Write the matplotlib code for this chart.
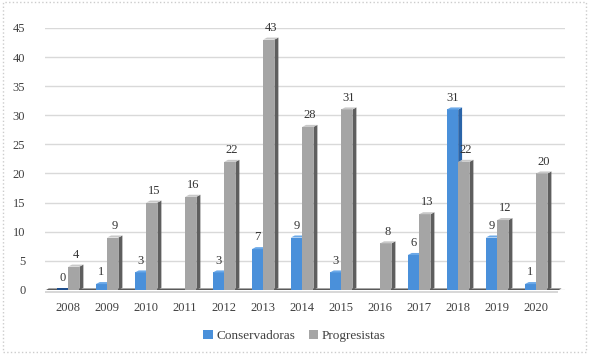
import matplotlib.pyplot as plt
from matplotlib.patches import Polygon, Rectangle

years = ["2008", "2009", "2010", "2011", "2012", "2013", "2014",
         "2015", "2016", "2017", "2018", "2019", "2020"]
# None = no bar / no label in the original
conservadoras = [0, 1, 3, None, 3, 7, 9, 3, None, 6, 31, 9, 1]
progresistas = [4, 9, 15, 16, 22, 43, 28, 31, 8, 13, 22, 12, 20]
yticks = [0, 5, 10, 15, 20, 25, 30, 35, 40, 45]

plt.rcParams["font.family"] = ["Liberation Serif", "DejaVu Serif"]

fig = plt.figure(figsize=(5.89, 3.54), dpi=100)
ax = fig.add_axes([0.076, 0.181, 0.884, 0.74])

bw = 0.29
dx, dy = 0.10, 0.35  # fake 3D depth


def bar3d(x, h, face, side, top):
    ax.add_patch(Rectangle((x - bw / 2, 0), bw, h, facecolor=face, edgecolor="none", zorder=3))
    ax.add_patch(Polygon([(x + bw / 2, 0), (x + bw / 2 + dx, dy), (x + bw / 2 + dx, h + dy), (x + bw / 2, h)],
                         closed=True, facecolor=side, edgecolor="none", zorder=3))
    ax.add_patch(Polygon([(x - bw / 2, h), (x - bw / 2 + dx, h + dy), (x + bw / 2 + dx, h + dy), (x + bw / 2, h)],
                         closed=True, facecolor=top, edgecolor="none", zorder=3))


# floor
ax.add_patch(Polygon([(-0.6, -0.15), (-0.5, 0.25), (12.65, 0.25), (12.55, -0.15)],
                     closed=True, facecolor="#5a5a5a", edgecolor="none", zorder=2))
ax.add_patch(Rectangle((-0.6, -0.45), 13.15, 0.3, facecolor="#d8d8d8", edgecolor="none", zorder=2, clip_on=False))

for i, (c, p) in enumerate(zip(conservadoras, progresistas)):
    xc = i - bw / 2
    xp = i + bw / 2
    if c is not None:
        if c == 0:
            ax.add_patch(Rectangle((xc - bw / 2, 0), bw, 0.25, facecolor="#1f4e8c", edgecolor="none", zorder=3))
        else:
            bar3d(xc, c, "#4a90da", "#2a64a8", "#6aa8e8")
        ax.text(xc, c + 1.0, str(c), ha="center", va="bottom", fontsize=9, color="#333333", zorder=5)
    bar3d(xp, p, "#a5a5a5", "#5e5e5e", "#c8c8c8")
    ax.text(xp + 0.05, p + 1.0, str(p), ha="center", va="bottom", fontsize=9, color="#333333", zorder=5)

ax.set_xlim(-0.6, 12.75)
ax.set_ylim(0, 45)
ax.set_yticks(yticks)
ax.set_xticks(range(len(years)))
ax.set_xticklabels(years)
ax.tick_params(length=0, labelsize=9, labelcolor="#404040")
ax.tick_params(axis="y", pad=14)
ax.tick_params(axis="x", pad=9)
ax.grid(axis="y", color="#d9d9d9", linewidth=1, zorder=0)
ax.set_axisbelow(True)
for s in ax.spines.values():
    s.set_visible(False)

h1 = Rectangle((0, 0), 1, 1, facecolor="#4a90da")
h2 = Rectangle((0, 0), 1, 1, facecolor="#a5a5a5")
fig.legend([h1, h2], ["Conservadoras", "Progresistas"], loc="center", bbox_to_anchor=(0.5, 0.05),
           ncol=2, frameon=False, fontsize=9.5, handlelength=0.7, handleheight=0.7,
           handletextpad=0.3, columnspacing=1.0, labelcolor="#404040")

fig.patches.append(Rectangle((0.005, 0.005), 0.99, 0.99, transform=fig.transFigure, fill=False,
                             edgecolor="#cccccc", linestyle=":", linewidth=1))

fig.savefig("out.png", dpi=100)
